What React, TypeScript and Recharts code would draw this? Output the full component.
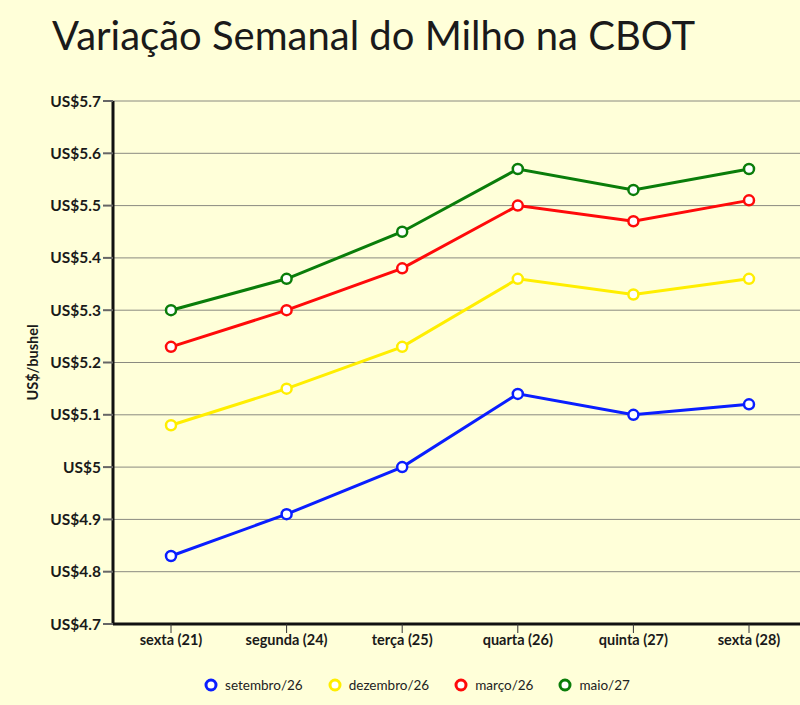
import React from 'react';
import { LineChart, Line, XAxis, YAxis, CartesianGrid, Legend } from 'recharts';

const categories = ['sexta (21)', 'segunda (24)', 'terça (25)', 'quarta (26)', 'quinta (27)', 'sexta (28)'];
const setembro = [4.83, 4.91, 5.0, 5.14, 5.1, 5.12];
const dezembro = [5.08, 5.15, 5.23, 5.36, 5.33, 5.36];
const marco = [5.23, 5.3, 5.38, 5.5, 5.47, 5.51];
const maio = [5.3, 5.36, 5.45, 5.57, 5.53, 5.57];
const yTicks = [4.7, 4.8, 4.9, 5.0, 5.1, 5.2, 5.3, 5.4, 5.5, 5.6, 5.7];

const seriesInfo = [
  { key: 'setembro', name: 'setembro/26', color: '#0a1eff' },
  { key: 'dezembro', name: 'dezembro/26', color: '#ffee00' },
  { key: 'marco', name: 'março/26', color: '#ff0a0a' },
  { key: 'maio', name: 'maio/27', color: '#0a7d0a' },
];

const data = categories.map((c, i) => ({
  day: c,
  setembro: setembro[i],
  dezembro: dezembro[i],
  marco: marco[i],
  maio: maio[i],
}));

const BG = '#ffffd9';
const FONT = 'Lato, "Open Sans", sans-serif';

const LegendContent = () => (
  <div
    style={{
      display: 'flex',
      justifyContent: 'center',
      alignItems: 'center',
      height: 41,
      boxSizing: 'border-box',
      fontFamily: FONT,
      fontSize: 13.5,
      color: '#222',
      transform: 'translateX(13px)',
    }}
  >
    {seriesInfo.map((s) => (
      <div key={s.key} style={{ display: 'flex', alignItems: 'center', margin: '0 12px' }}>
        <svg width={16} height={16} style={{ marginRight: 6 }}>
          <circle cx={8} cy={8} r={5} fill="#fff" stroke={s.color} strokeWidth={3} />
        </svg>
        <span>{s.name}</span>
      </div>
    ))}
  </div>
);

export default function App() {
  return (
    <div
      style={{
        position: 'fixed',
        left: 0,
        top: 0,
        width: 800,
        height: 705,
        background: BG,
        overflow: 'hidden',
      }}
    >
      <div
        style={{
          position: 'absolute',
          left: 52,
          top: 10,
          fontFamily: FONT,
          fontSize: 40,
          color: '#1a1a1a',
          whiteSpace: 'nowrap',
          lineHeight: '50px',
        }}
      >
        Variação Semanal do Milho na CBOT
      </div>
      <LineChart
        width={808}
        height={705}
        data={data}
        margin={{ top: 101, right: 1, bottom: 0, left: 0 }}
      >
        <CartesianGrid vertical={false} stroke="#8a8a80" strokeWidth={1} />
        <XAxis
          dataKey="day"
          height={40}
          padding={{ left: 58, right: 58 }}
          axisLine={{ stroke: '#111', strokeWidth: 3 }}
          tickLine={{ stroke: '#333', strokeWidth: 1 }}
          tickSize={9}
          tick={{ fill: '#1a1a1a', fontSize: 14.5, fontWeight: 700, fontFamily: FONT }}
          interval={0}
        />
        <YAxis
          width={113}
          domain={[4.7, 5.7]}
          ticks={yTicks}
          interval={0}
          axisLine={{ stroke: '#111', strokeWidth: 3 }}
          tickLine={{ stroke: '#666', strokeWidth: 2 }}
          tickSize={10}
          tickFormatter={(v: number) => `US$${Number(v.toFixed(1))}`}
          tick={{ fill: '#1a1a1a', fontSize: 15.5, fontWeight: 700, fontFamily: FONT }}
          label={{
            content: ({ viewBox }: any) => {
              const cy = viewBox.y + viewBox.height / 2;
              return (
                <text
                  x={32}
                  y={cy}
                  transform={`rotate(-90 32 ${cy})`}
                  textAnchor="middle"
                  dominantBaseline="central"
                  fill="#1a1a1a"
                  fontSize={14.5}
                  fontWeight={700}
                  fontFamily={FONT}
                >
                  US$/bushel
                </text>
              );
            },
          }}
        />
        <Legend verticalAlign="bottom" height={41} content={<LegendContent />} />
        {seriesInfo.map((s) => (
          <Line
            key={s.key}
            type="linear"
            dataKey={s.key}
            name={s.name}
            stroke={s.color}
            strokeWidth={3}
            dot={{ r: 5, fill: '#fff', stroke: s.color, strokeWidth: 2.5 }}
            activeDot={false}
            isAnimationActive={false}
          />
        ))}
      </LineChart>
    </div>
  );
}
